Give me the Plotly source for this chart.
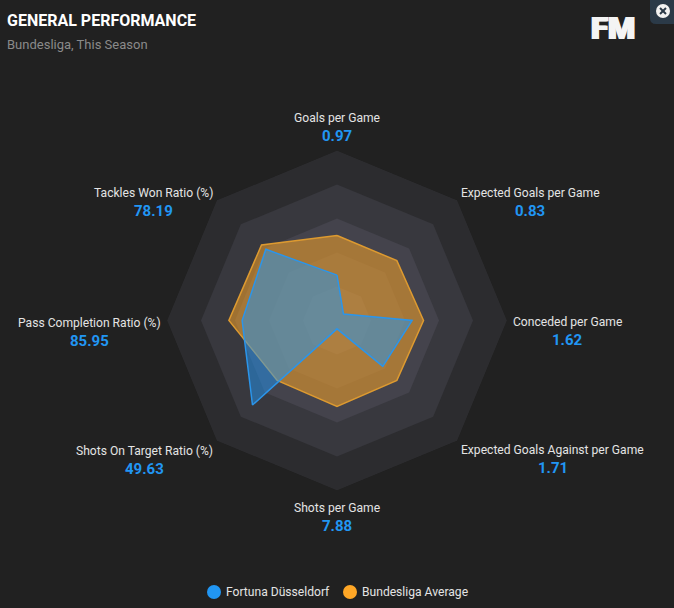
import plotly.graph_objects as go

W = 674
H = 608

categories = ["Goals per Game", "Expected Goals per Game", "Conceded per Game",
              "Expected Goals Against per Game", "Shots per Game",
              "Shots On Target Ratio (%)", "Pass Completion Ratio (%)", "Tackles Won Ratio (%)"]
value_labels = ["0.97", "0.83", "1.62", "1.71", "7.88", "49.63", "85.95", "78.19"]

# share of the outer ring
fortuna = [0.267, 0.054, 0.442, 0.381, 0.049, 0.703, 0.558, 0.592]
bundesliga = [0.500, 0.498, 0.509, 0.498, 0.505, 0.498, 0.636, 0.628]

ring_levels = [1.0, 0.8, 0.6, 0.4, 0.2]
ring_colors = ["#2c2c2f", "#38383e", "#44434c", "#4c4b55", "#55545f"]

# label centres in page pixels
label_xy = [(337, 118), (530, 193), (567, 322), (552.5, 450), (337, 508), (144, 451), (89, 323), (153, 193)]
value_gap = 18

BLUE = "#2196f3"
ORANGE = "#ffa726"
BG = "#212121"
CX, CY, R = 337, 320.5, 170


def px(x):
    return x / W


def py(y):
    return 1 - y / H


def closed(values):
    return list(values) + [values[0]]


fig = go.Figure()

theta = closed(categories)
for level, color in zip(ring_levels, ring_colors):
    fig.add_trace(go.Scatterpolar(r=[level] * len(theta), theta=theta, mode="none", fill="toself",
                                  fillcolor=color, hoverinfo="skip", showlegend=False))

fig.add_trace(go.Scatterpolar(r=closed(bundesliga), theta=theta, mode="lines", name="Bundesliga Average",
                              fill="toself", fillcolor="rgba(255,167,38,0.52)",
                              line=dict(color="#dd9a30", width=1.5), showlegend=False))
fig.add_trace(go.Scatterpolar(r=closed(fortuna), theta=theta, mode="lines", name="Fortuna Düsseldorf",
                              fill="toself", fillcolor="rgba(33,150,243,0.5)",
                              line=dict(color="#2b95ea", width=1.5), showlegend=False))

annotations = []


def add_text(text, x, y, size, color, anchor="center", weight=None, shadow=None):
    annotations.append(dict(text=text, x=px(x), y=py(y), xref="paper", yref="paper", xanchor=anchor,
                            yanchor="middle", showarrow=False, borderpad=0, borderwidth=0,
                            font=dict(family="Roboto", size=size, color=color, weight=weight, shadow=shadow)))


for name, val, (x, y) in zip(categories, value_labels, label_xy):
    add_text(name, x, y, 12.1, "#e4e4e4")
    add_text(val, x, y + value_gap, 15, BLUE, weight=700)

add_text("GENERAL PERFORMANCE", 7, 20, 16, "#ffffff", anchor="left", weight=700)
add_text("Bundesliga, This Season", 7, 44, 13, "#8a8a8a", anchor="left")
add_text("FM", 613, 28.5, 31, "#f4f4f4", weight=900,
         shadow="1px 0 0 #f4f4f4, -1px 0 0 #f4f4f4")

add_text("Fortuna Düsseldorf", 226, 592, 12.1, "#e4e4e4", anchor="left")
add_text("Bundesliga Average", 362, 592, 12.1, "#e4e4e4", anchor="left")


def circle(x, y, r, color):
    return dict(type="circle", xref="paper", yref="paper", x0=px(x - r), x1=px(x + r), y0=py(y + r), y1=py(y - r),
                fillcolor=color, line=dict(width=0))


shapes = [
    circle(214, 592, 7, BLUE),
    circle(350, 592, 7, ORANGE),
    # close button
    dict(type="path", xref="paper", yref="paper",
         path=f"M {px(650)} {py(0)} L {px(674)} {py(0)} L {px(674)} {py(24)} L {px(656)} {py(24)} "
              f"Q {px(650)} {py(24)} {px(650)} {py(18)} Z",
         fillcolor="#2b3a48", line=dict(width=0)),
    circle(663, 11, 7, "#f2f2f2"),
    dict(type="line", xref="paper", yref="paper", x0=px(660), x1=px(666), y0=py(8), y1=py(14),
         line=dict(color="#2b3a48", width=2)),
    dict(type="line", xref="paper", yref="paper", x0=px(660), x1=px(666), y0=py(14), y1=py(8),
         line=dict(color="#2b3a48", width=2)),
]

fig.update_layout(
    width=W,
    height=H,
    margin=dict(l=0, r=0, t=0, b=0),
    paper_bgcolor=BG,
    plot_bgcolor=BG,
    showlegend=False,
    annotations=annotations,
    shapes=shapes,
    polar=dict(
        domain=dict(x=[px(CX - R), px(CX + R)], y=[py(CY + R), py(CY - R)]),
        bgcolor="rgba(0,0,0,0)",
        gridshape="linear",
        radialaxis=dict(range=[0, 1], visible=False, showgrid=False),
        angularaxis=dict(direction="clockwise", rotation=90, showgrid=False, showline=False,
                         showticklabels=False, ticks=""),
    ),
)

fig.write_html("out.html", config=dict(displayModeBar=False),
               post_script="document.body.style.margin='0';document.body.style.background='#212121';")
